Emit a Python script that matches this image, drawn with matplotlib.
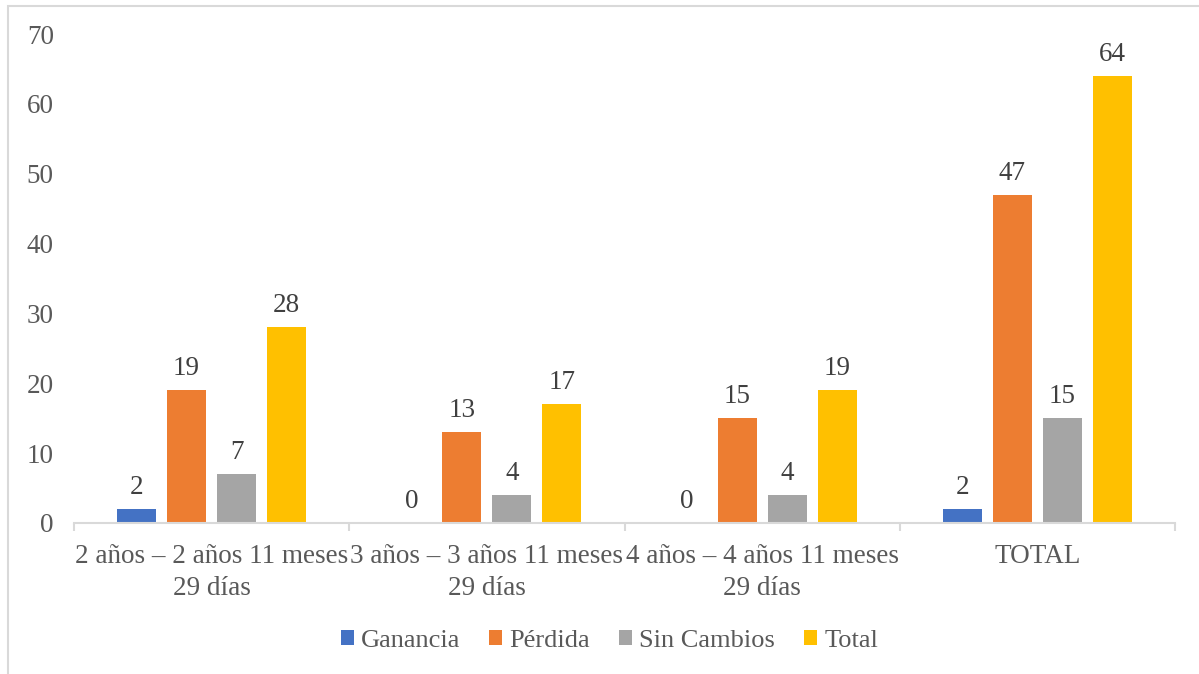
import matplotlib
matplotlib.use("Agg")
import matplotlib.pyplot as plt
from matplotlib.patches import Rectangle
from matplotlib.ticker import FixedLocator
import numpy as np

# Data
categories = [
    "2 años – 2 años 11 meses\n29 días",
    "3 años – 3 años 11 meses\n29 días",
    "4 años – 4 años 11 meses\n29 días",
    "TOTAL",
]
series_names = ["Ganancia", "Pérdida", "Sin Cambios", "Total"]
ganancia = [2, 0, 0, 2]
perdida = [19, 13, 15, 47]
sin_cambios = [7, 4, 4, 15]
total = [28, 17, 19, 64]
y_ticks = [0, 10, 20, 30, 40, 50, 60, 70]

colors = ["#4472C4", "#ED7D31", "#A5A5A5", "#FFC000"]
text_color = "#595959"
label_color = "#404040"
axis_color = "#D9D9D9"
fs = 19.5
legend_fs = 19

plt.rcParams["font.family"] = ["Liberation Serif", "DejaVu Serif"]

W, H = 1199, 674
fig = plt.figure(figsize=(W / 100, H / 100), dpi=100)
ax = fig.add_axes([74 / W, (H - 523) / H, (1175 - 74) / W, (523 - 34) / H])

x = np.arange(len(categories))
step = 50 / 275
width = 39 / 275
all_series = [ganancia, perdida, sin_cambios, total]
for i, (name, vals, col) in enumerate(zip(series_names, all_series, colors)):
    offs = (i - 1.5) * step
    bars = ax.bar(x + offs, vals, width=width, color=col, label=name, zorder=2)
    ax.bar_label(bars, labels=[str(v) for v in vals], padding=6.5,
                 fontsize=fs, color=label_color)

ax.set_xlim(-0.5, len(categories) - 0.5)
ax.set_ylim(0, 70)
ax.set_yticks(y_ticks)
ax.tick_params(axis="y", length=0, pad=14.5, labelsize=fs, labelcolor=text_color)

ax.set_xticks(x)
ax.set_xticklabels(categories, linespacing=1.38)
ax.xaxis.set_minor_locator(FixedLocator(np.arange(len(categories) + 1) - 0.5))
ax.tick_params(axis="x", which="major", length=0, pad=15, labelsize=fs,
               labelcolor=text_color)
ax.tick_params(axis="x", which="minor", length=6, width=1.5, color=axis_color)

for side in ["left", "right", "top"]:
    ax.spines[side].set_visible(False)
ax.spines["bottom"].set_color(axis_color)
ax.spines["bottom"].set_linewidth(1.5)

leg = fig.legend(loc="center", bbox_to_anchor=(609.5 / W, (H - 641) / H),
                 ncol=4, frameon=False, fontsize=legend_fs, handlelength=0.48,
                 handleheight=0.48, handletextpad=0.29, columnspacing=1.09,
                 labelcolor=text_color)

# Chart-area border
fig.patches.append(Rectangle((8 / W, -0.1), 1.2, 1.1 - 6 / H,
                             transform=fig.transFigure, fill=False,
                             edgecolor=axis_color, linewidth=1.5))

fig.savefig("out.png", dpi=100)
